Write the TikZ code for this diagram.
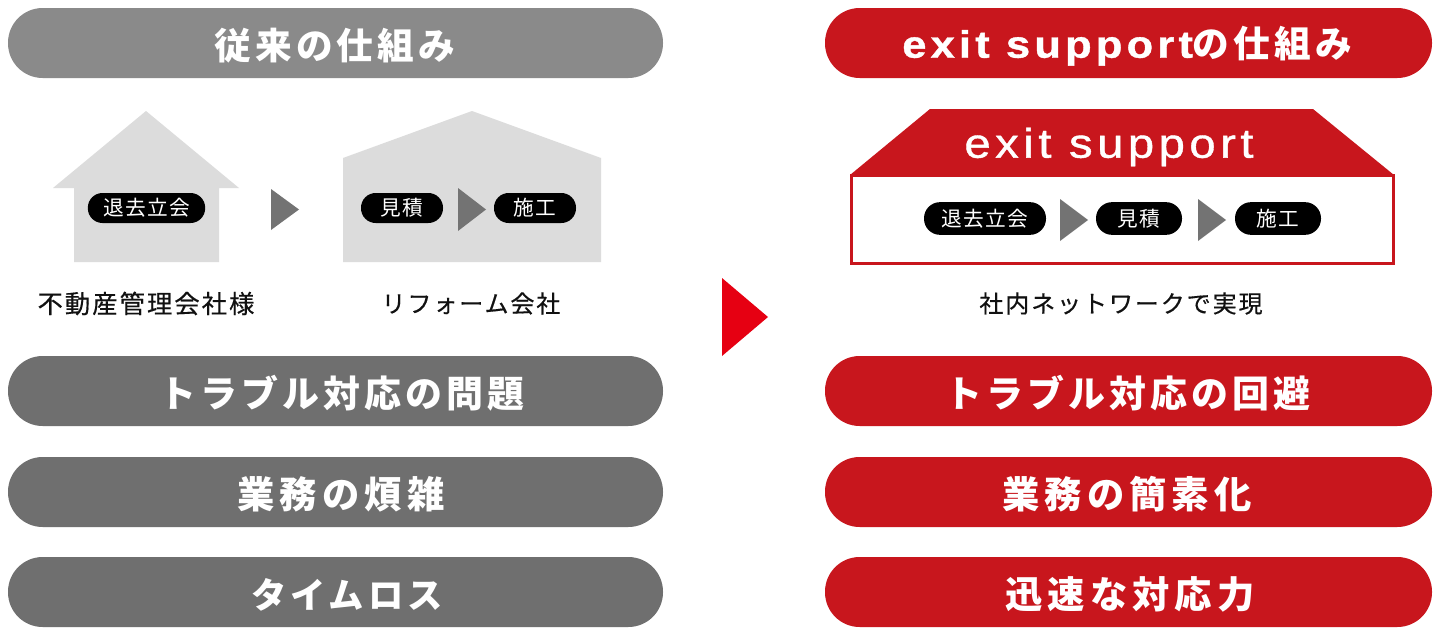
\documentclass[tikz,border=0pt]{standalone}
\usepackage{fontspec}
\setmainfont{Liberation Sans}
\newfontfamily\cjkhead[LetterSpace=11]{Noto Sans CJK JP}
\newfontfamily\cjkwide[LetterSpace=13.5]{Noto Sans CJK JP}
\newfontfamily\cjklabel[LetterSpace=8,FakeBold=0.4]{Noto Sans CJK JP}
\newfontfamily\cjkpill[LetterSpace=6]{Noto Sans CJK JP}
\newfontfamily\latinhead[LetterSpace=11,FakeStretch=1.14,FakeBold=1]{Liberation Sans}
\definecolor{headgray}{HTML}{8A8A8A}
\definecolor{bargray}{HTML}{6F6F6F}
\definecolor{barred}{HTML}{C8161D}
\definecolor{housegray}{HTML}{DCDCDC}
\definecolor{arrowgray}{HTML}{737373}
\definecolor{bigred}{HTML}{E60012}
\definecolor{inkdark}{HTML}{111111}
\tikzset{
  x=0.75pt,y=-0.75pt,
  bar/.style={inner sep=0pt,text=white,font=\cjkhead\bfseries\fontsize{27.7pt}{30pt}\selectfont},
  barwide/.style={bar,font=\cjkwide\bfseries\fontsize{28pt}{30pt}\selectfont},
  barshape/.style={rounded corners=26pt},
  pill/.style={fill=black,text=white,inner sep=0pt,rounded corners=11pt,minimum height=22.5pt,font=\cjkpill\fontsize{15.5pt}{17pt}\selectfont},
  caption/.style={text=inkdark,inner sep=0pt,font=\cjklabel\fontsize{18pt}{20pt}\selectfont},
  housefill/.style={fill=housegray},
  tri/.style={fill=arrowgray},
}
\begin{document}
\begin{tikzpicture}
\useasboundingbox (0,0) rectangle (1440,639);
\fill[white] (0,0) rectangle (1440,639);
% header and result bars
\fill[headgray,barshape] (8,8) rectangle (663,78);
\fill[bargray,barshape] (8,356) rectangle (663,426);
\fill[bargray,barshape] (8,457) rectangle (663,527);
\fill[bargray,barshape] (8,557) rectangle (663,627);
\fill[barred,barshape] (825,8) rectangle (1432,78);
\fill[barred,barshape] (825,356) rectangle (1432,426);
\fill[barred,barshape] (825,457) rectangle (1432,527);
\fill[barred,barshape] (825,557) rectangle (1432,627);
\node[bar,font=\cjkhead\bfseries\fontsize{27.5pt}{30pt}\selectfont] (t1) at (335,46) {従来の仕組み};
\node[bar] (t2) at (342,393.5) {トラブル対応の問題};
\node[barwide] (t3) at (341,494.5) {業務の煩雑};
\node[bar,font=\cjkhead\bfseries\fontsize{26.5pt}{30pt}\selectfont] (t4) at (347,594.5) {タイムロス};
\node[bar,font=\cjkhead\bfseries\fontsize{27.5pt}{30pt}\selectfont] (r1) at (1127,46) {{\latinhead\fontsize{28.6pt}{30pt}\selectfont exit support}の仕組み};
\node[bar] (r2) at (1128,393.5) {トラブル対応の回避};
\node[barwide] (r3) at (1127,494.5) {業務の簡素化};
\node[barwide] (r4) at (1130,594.5) {迅速な対応力};
% houses
\fill[housefill] (146,111) -- (239,188) -- (219,188) -- (219,262) -- (74,262) -- (74,188) -- (53,188) -- cycle;
\fill[housefill] (472,111) -- (601,158) -- (601,262) -- (343,262) -- (343,158) -- cycle;
\fill[tri] (271,189) -- (299,209.5) -- (271,230) -- cycle;
\fill[tri] (458,188) -- (486,209.5) -- (458,231) -- cycle;
\node[pill,minimum width=88pt] (a1) at (146.5,208) {退去立会};
\node[pill,minimum width=61.5pt] (a2) at (402,208) {見積};
\node[pill,minimum width=61.5pt] (a3) at (535,208) {施工};
\node[caption,font=\cjklabel\fontsize{19pt}{20pt}\selectfont] (c1) at (146,303.5) {不動産管理会社様};
\node[caption] (c2) at (471,303.5) {リフォーム会社};
% big arrow
\fill[bigred] (722,278) -- (768,317) -- (722,356) -- cycle;
% exit support house
\fill[barred] (930,109) -- (1313,109) -- (1394,175) -- (850,175) -- cycle;
\draw[barred,line width=2.25pt] (851.5,175) rectangle (1393.5,263);
\node[inner sep=0pt,text=white,font=\latinhead\fontsize{31pt}{33pt}\selectfont] (e) at (1109,147) {exit support};
\fill[tri] (1060,199) -- (1088,220) -- (1060,241) -- cycle;
\fill[tri] (1198,199) -- (1226,220) -- (1198,241) -- cycle;
\node[pill,minimum width=91.5pt,minimum height=24.5pt,rounded corners=12pt] (b1) at (985,218.5) {退去立会};
\node[pill,minimum width=64.5pt,minimum height=24.5pt,rounded corners=12pt] (b2) at (1139,218.5) {見積};
\node[pill,minimum width=64.5pt,minimum height=24.5pt,rounded corners=12pt] (b3) at (1278,218.5) {施工};
\node[caption] (c3) at (1121,303.5) {社内ネットワークで実現};
\end{tikzpicture}
\end{document}
